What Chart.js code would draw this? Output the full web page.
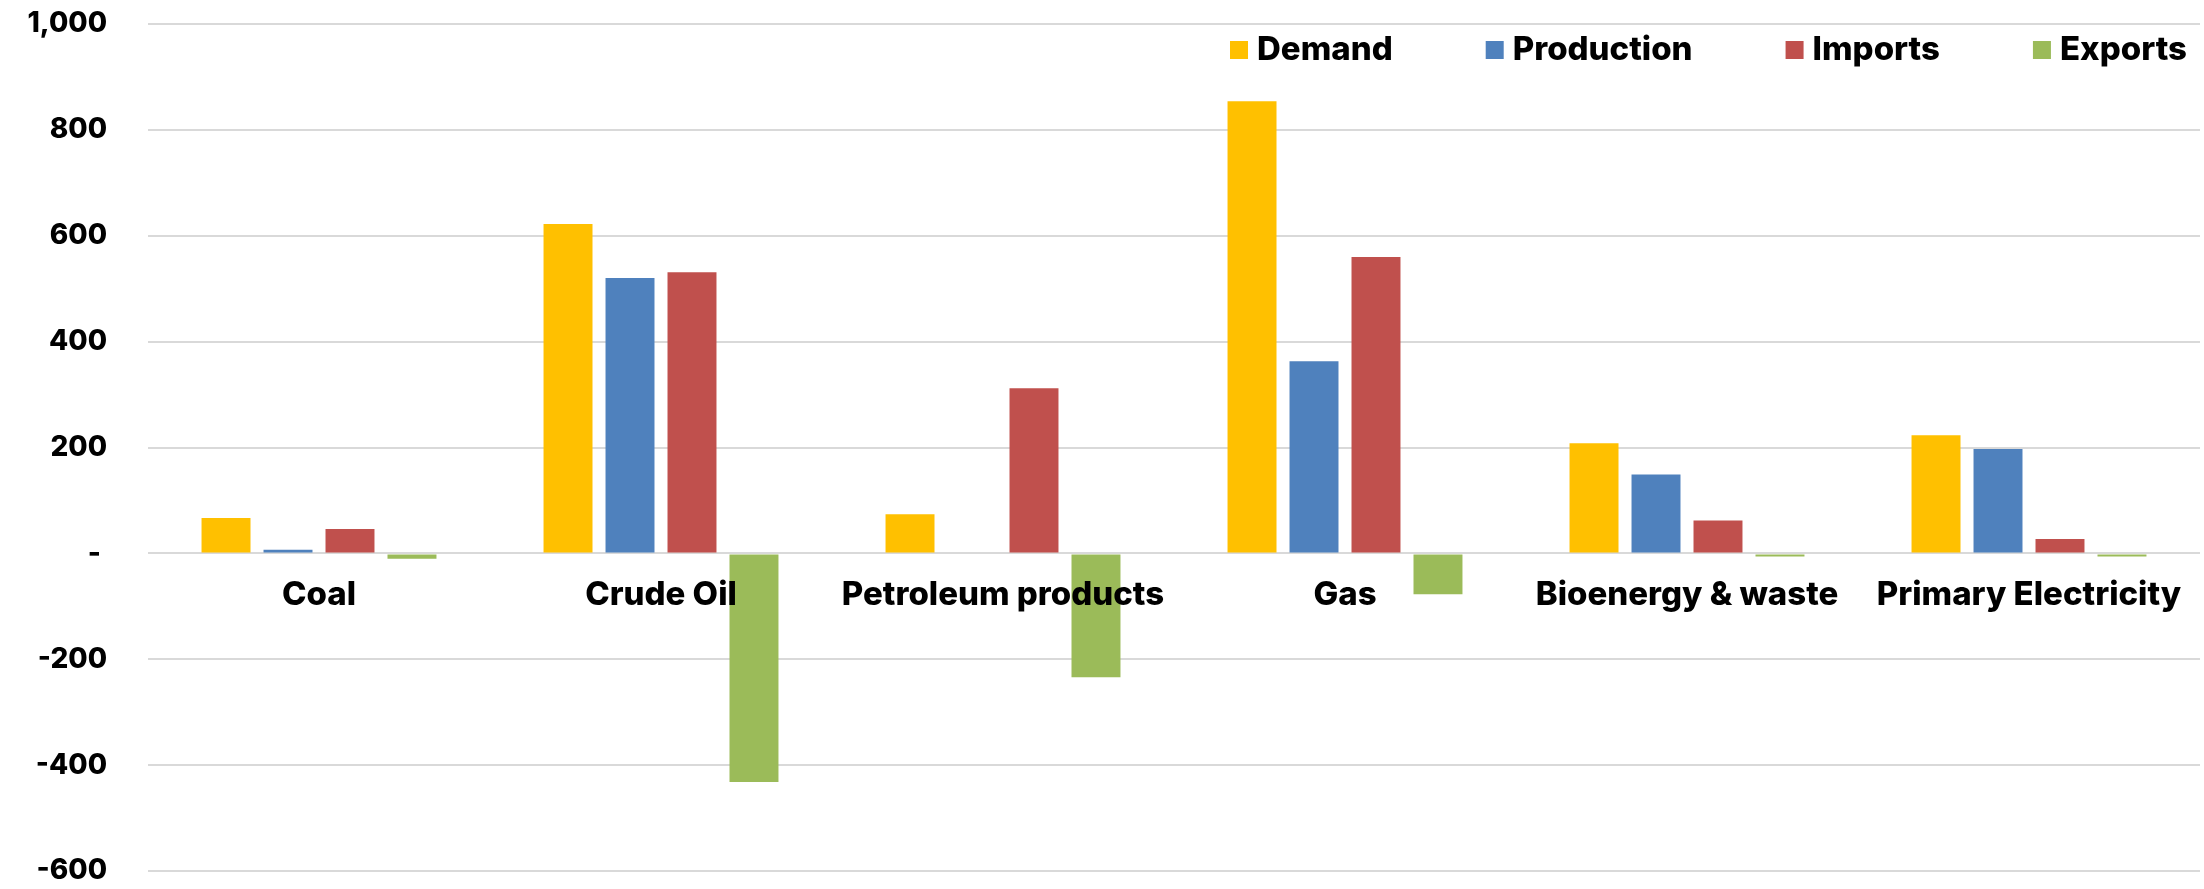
<!DOCTYPE html>
<html>
<head>
<meta charset="utf-8">
<script src="https://cdn.jsdelivr.net/npm/chart.js@4.4.1/dist/chart.umd.min.js"></script>
<style>
html,body{margin:0;padding:0;background:#fff;overflow:hidden}
canvas{display:block}
</style>
</head>
<body>
<canvas id="c" width="2204" height="889"></canvas>
<script>
const categories = ['Coal', 'Crude Oil', 'Petroleum products', 'Gas', 'Bioenergy & waste', 'Primary Electricity'];
const seriesNames = ['Demand', 'Production', 'Imports', 'Exports'];
const demand = [67, 622, 74, 854, 208, 223];
const production = [7, 520, 0, 363, 149, 197];
const imports = [46, 531, 312, 560, 62, 27];
const exportsData = [-10, -432, -234, -77, -6, -6];
const yTickValues = [-600, -400, -200, 0, 200, 400, 600, 800, 1000];
const seriesColors = ['#FFC000', '#4F81BD', '#C0504D', '#9BBB59'];

const FONT = 'Inter';
const seriesValues = [demand, production, imports, exportsData];

const insideLegend = {
  id: 'insideLegend',
  afterDraw(chart, args, o) {
    const ctx = chart.ctx, area = chart.chartArea;
    ctx.save();
    ctx.font = o.weight + ' ' + o.size + 'px ' + FONT;
    ctx.textBaseline = 'alphabetic';
    ctx.textAlign = 'left';
    let xEnd = area.right - o.rightInset;
    const ds = chart.data.datasets;
    for (let i = ds.length - 1; i >= 0; i--) {
      const w = ctx.measureText(ds[i].label).width;
      const tx = xEnd - w;
      const bx = tx - o.gap - o.box;
      ctx.fillStyle = ds[i].backgroundColor;
      ctx.fillRect(bx, area.top + o.boxCenter - o.box / 2, o.box, o.box);
      ctx.fillStyle = o.color;
      ctx.fillText(ds[i].label, tx, area.top + o.baseline);
      xEnd = bx - o.spacing;
    }
    ctx.restore();
  }
};

new Chart(document.getElementById('c'), {
  type: 'bar',
  data: {
    labels: categories,
    datasets: seriesNames.map((name, i) => ({
      label: name,
      data: seriesValues[i],
      backgroundColor: seriesColors[i],
      borderWidth: 0,
      categoryPercentage: 0.725,
      barPercentage: 0.79
    }))
  },
  plugins: [insideLegend],
  options: {
    responsive: false,
    animation: false,
    devicePixelRatio: 1,
    layout: { padding: { left: 0, right: 4, top: 24, bottom: 18 } },
    plugins: {
      legend: { display: false },
      tooltip: { enabled: false },
      insideLegend: { size: 33, weight: 800, box: 18, gap: 9, spacing: 93, rightInset: 13, baseline: 36, boxCenter: 26, color: '#000' }
    },
    scales: {
      x: {
        position: { y: 0 },
        afterFit(s) { s.height = 0; },
        grid: { display: false },
        border: { display: false },
        ticks: {
          z: 1,
          autoSkip: false,
          maxRotation: 0,
          minRotation: 0,
          padding: 14,
          color: '#000',
          font: { family: FONT, size: 33, weight: 800 }
        }
      },
      y: {
        min: -600,
        max: 1000,
        afterBuildTicks(s) { s.ticks = yTickValues.map(v => ({ value: v })); },
        afterFit(s) { s.width = 148; },
        grid: { color: '#d9d9d9', lineWidth: 2, drawTicks: true, tickLength: 41, tickColor: 'rgba(0,0,0,0)' },
        border: { display: false },
        ticks: {
          padding: 0,
          color: '#000',
          font: { family: FONT, size: 28, weight: 800 },
          callback: v => v === 0 ? '- ' : v.toLocaleString('en-US')
        }
      }
    }
  }
});
</script>
</body>
</html>
